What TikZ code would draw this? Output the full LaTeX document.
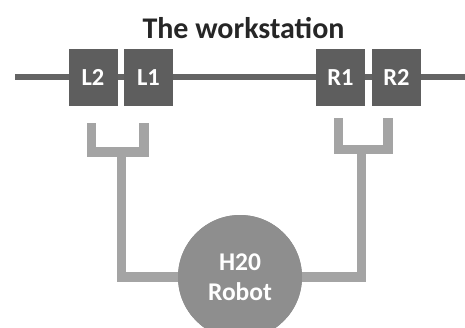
\documentclass[tikz,border=0pt]{standalone}
\usepackage{fontspec}
\setmainfont{Carlito}
\definecolor{boxgray}{HTML}{5E5E5E}
\definecolor{railgray}{HTML}{646464}
\definecolor{armgray}{HTML}{A4A4A4}
\definecolor{robotgray}{HTML}{8E8E8E}
\begin{document}
\begin{tikzpicture}[x=1pt,y=-1pt,
  station/.style={draw=none,fill=boxgray,minimum width=49pt,minimum height=57pt,
    inner sep=0pt,text=white,font=\bfseries\fontsize{24.5}{28}\selectfont},
  rail/.style={draw=railgray,line width=6pt},
  arm/.style={draw=armgray,line width=9.5pt,line join=miter,line cap=butt},
  robot/.style={circle,fill=robotgray,minimum size=124pt,inner sep=0pt,text=white,
    align=center,font=\bfseries\fontsize{25.5}{30}\selectfont}]
\useasboundingbox (0,0) rectangle (465,327);
% title
\node[font=\bfseries\fontsize{30}{34}\selectfont,text=black!85] (title) at (243.5,28) {The workstation};
% rail with the four stations
\coordinate (railL) at (15,77);
\coordinate (railR) at (465,77);
\draw[rail] (railL) -- (railR);
\node[station] (L2) at (93,77.5) {L2};
\node[station] (L1) at (148.5,77.5) {L1};
\node[station] (R1) at (340.5,77.5) {R1};
\node[station] (R2) at (396.5,77.5) {R2};
% robot
\node[robot] (robot) at (240,277) {H20\\Robot};
% left gripper arm
\coordinate (la) at (91.5,123);
\coordinate (lb) at (144,123);
\coordinate (lj) at (121.5,152);
\draw[arm] (la) |- (lj) -| (lb);
\draw[arm] (lj) |- (robot.west);
% right gripper arm
\coordinate (ra) at (338.5,118);
\coordinate (rb) at (388,118);
\coordinate (rj) at (361.5,149.5);
\draw[arm] (ra) |- (rj) -| (rb);
\draw[arm] (rj) |- (robot.east);
% robot on top of the arms
\node[robot] at (robot) {H20\\Robot};
\end{tikzpicture}
\end{document}
